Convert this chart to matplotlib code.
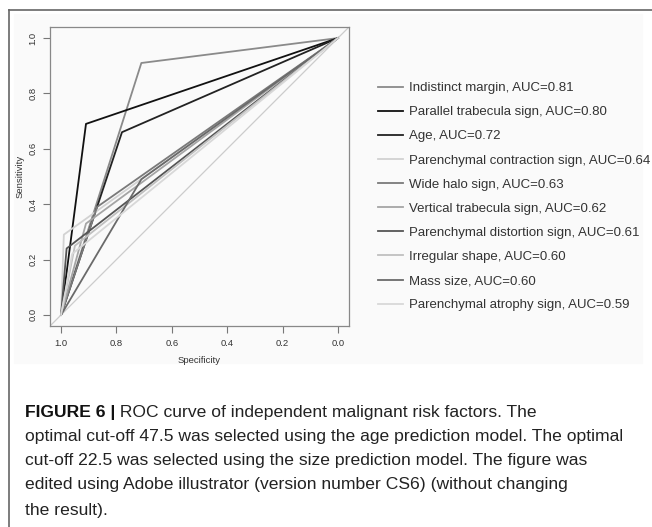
import numpy as np
import matplotlib
matplotlib.use('Agg')
import matplotlib.pyplot as plt
from matplotlib.patches import Rectangle
from matplotlib.lines import Line2D

plt.rcParams['font.family'] = ['Liberation Sans', 'DejaVu Sans']

# ROC curves (specificity, sensitivity) for each risk factor
names = ['Indistinct margin', 'Parallel trabecula sign', 'Age',
         'Parenchymal contraction sign', 'Wide halo sign', 'Vertical trabecula sign',
         'Parenchymal distortion sign', 'Irregular shape', 'Mass size',
         'Parenchymal atrophy sign']
auc = [0.81, 0.80, 0.72, 0.64, 0.63, 0.62, 0.61, 0.60, 0.60, 0.59]
spec = [[1, 0.71, 0], [1, 0.91, 0], [1, 0.78, 0], [1, 0.99, 0], [1, 0.87, 0],
        [1, 0.91, 0], [1, 0.98, 0], [1, 0.95, 0], [1, 0.71, 0], [1, 0.96, 0]]
sens = [[0, 0.91, 1], [0, 0.69, 1], [0, 0.66, 1], [0, 0.29, 1], [0, 0.39, 1],
        [0, 0.33, 1], [0, 0.24, 1], [0, 0.25, 1], [0, 0.49, 1], [0, 0.22, 1]]
colors = ['#8a8a8a', '#111111', '#222222', '#d2d2d2', '#7a7a7a',
          '#a5a5a5', '#555555', '#c0c0c0', '#6a6a6a', '#d8d8d8']

ticks = [1.0, 0.8, 0.6, 0.4, 0.2, 0.0]

caption_head = 'FIGURE 6 |'
caption_lines = [' ROC curve of independent malignant risk factors. The',
                 'optimal cut-off 47.5 was selected using the age prediction model. The optimal',
                 'cut-off 22.5 was selected using the size prediction model. The figure was',
                 'edited using Adobe illustrator (version number CS6) (without changing',
                 'the result).']

W, H = 652, 527
fig = plt.figure(figsize=(W / 100, H / 100), dpi=100)

# faint background of the pasted chart image and the outer frame
fig.patches.append(Rectangle((14 / W, 1 - 363 / H), 628 / W, 349 / H,
                             transform=fig.transFigure, color='#fafafa', zorder=-10))
fig.add_artist(Line2D([9 / W, 9 / W], [0, 1 - 10 / H], transform=fig.transFigure,
                      color='#666666', lw=1.2))
fig.add_artist(Line2D([9 / W, 1], [1 - 10 / H, 1 - 10 / H], transform=fig.transFigure,
                      color='#666666', lw=1.2))

ax = fig.add_axes([50 / W, 1 - 326 / H, 299 / W, 299 / H])
ax.set_zorder(5)
ax.set_facecolor('none')
ax.set_xlim(1.04, -0.04)
ax.set_ylim(-0.04, 1.04)

ax.axline((1, 0), (0, 1), color='#cccccc', lw=0.9, zorder=1)
for i in range(len(names)):
    ax.plot(spec[i], sens[i], color=colors[i], lw=1.3,
            label='%s, AUC=%.2f' % (names[i], auc[i]))

for s in ax.spines.values():
    s.set_color('#888888')
    s.set_linewidth(0.9)

ax.set_xticks(ticks)
ax.set_yticks(ticks)
ax.set_xticklabels(['%.1f' % t for t in ticks])
ax.set_yticklabels(['%.1f' % t for t in ticks], rotation=90, va='center')
ax.tick_params(length=5, width=0.8, color='#777777', labelsize=6.8, pad=4,
               labelcolor='#333333')
ax.set_xlabel('Specificity', fontsize=6.8, color='#333333', labelpad=6)
ax.set_ylabel('Sensitivity', fontsize=6.8, color='#333333', labelpad=3)

leg = ax.legend(loc='upper left', bbox_to_anchor=(378 / W, 1 - 82 / H),
                bbox_transform=fig.transFigure, frameon=False, fontsize=9.5,
                handlelength=1.9, handletextpad=0.45, labelspacing=0.9,
                borderpad=0, borderaxespad=0)
for t in leg.get_texts():
    t.set_color('#333333')

# caption
head = fig.text(25 / W, 1 - 412 / H, caption_head, fontsize=12.6, weight='bold',
                va='center', color='#111111')
fig.add_artist(plt.Annotation(caption_lines[0], xy=(1, 0.5), xycoords=head,
                              va='center', fontsize=12.6, color='#222222'))
ys = [436, 460, 485, 510]
for y, line in zip(ys, caption_lines[1:]):
    fig.text(25 / W, 1 - y / H, line, fontsize=12.6, va='center', color='#222222')

fig.savefig('out.png', dpi=100)
